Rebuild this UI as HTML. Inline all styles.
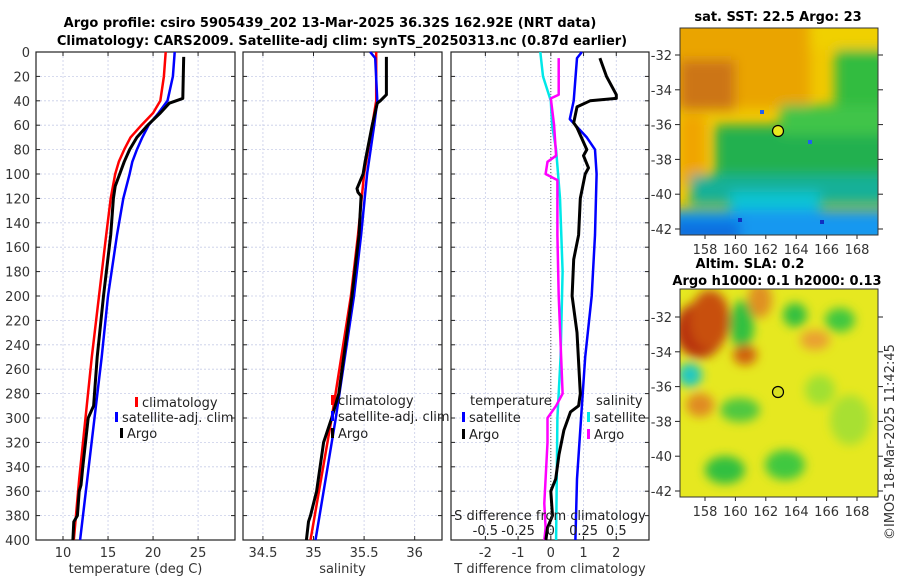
<!DOCTYPE html>
<html><head><meta charset="utf-8"><style>
body{margin:0;background:#fff;}
svg{display:block;font-family:"DejaVu Sans","Liberation Sans",sans-serif;}
</style></head><body>
<svg id="c" width="900" height="580" viewBox="0 0 900 580">
<defs>
<filter id="bl" x="-20%" y="-20%" width="140%" height="140%"><feGaussianBlur stdDeviation="6"/></filter>
<filter id="bl2" x="-20%" y="-20%" width="140%" height="140%"><feGaussianBlur stdDeviation="5"/></filter>
<clipPath id="cm1"><rect x="680" y="28" width="198" height="207"/></clipPath>
<clipPath id="cm2"><rect x="680" y="289" width="198" height="208"/></clipPath>
</defs>
<text x="330" y="27" font-size="13" font-weight="bold" text-anchor="middle">Argo profile: csiro 5905439_202 13-Mar-2025 36.32S 162.92E (NRT data)</text>
<text x="342" y="45" font-size="13" font-weight="bold" text-anchor="middle">Climatology: CARS2009. Satellite-adj clim: synTS_20250313.nc (0.87d earlier)</text>
<g id="g"></g>
<!-- maps -->
<g clip-path="url(#cm1)">
<rect x="680" y="28" width="198" height="207" fill="#f0c800"/>
<g filter="url(#bl)">
<rect x="670" y="18" width="140" height="90" fill="#eaa400"/>
<rect x="680" y="60" width="55" height="50" fill="#cc7414"/>
<rect x="680" y="115" width="25" height="70" fill="#f0a400"/>
<rect x="810" y="18" width="80" height="30" fill="#f0d000"/>
<rect x="835" y="50" width="55" height="60" fill="#30bc40"/>
<rect x="715" y="125" width="175" height="55" fill="#20b050"/>
<rect x="780" y="105" width="110" height="30" fill="#40c448"/>
<rect x="690" y="175" width="200" height="30" fill="#14b098"/>
<rect x="730" y="192" width="90" height="20" fill="#10c4d4"/>
<rect x="670" y="210" width="220" height="35" fill="#1498f0"/>
<rect x="670" y="220" width="70" height="25" fill="#1070e0"/>
</g>
<rect x="760" y="110" width="4" height="4" fill="#2060f0"/><rect x="808" y="140" width="4" height="4" fill="#2060f0"/><rect x="820" y="220" width="4" height="4" fill="#1030c0"/><rect x="738" y="218" width="4" height="4" fill="#1030c0"/>
<circle cx="778" cy="131" r="5.5" fill="#e8e820" stroke="#000" stroke-width="1.2"/>
</g>
<rect x="680" y="28" width="198" height="207" fill="none" stroke="#333"/>
<g clip-path="url(#cm2)">
<rect x="680" y="289" width="198" height="208" fill="#e6e820"/>
<g filter="url(#bl2)">
<ellipse cx="700" cy="330" rx="25" ry="28" fill="#b83010"/>
<ellipse cx="710" cy="320" rx="20" ry="30" fill="#c85010"/>
<ellipse cx="690" cy="375" rx="12" ry="12" fill="#20c8c0"/>
<ellipse cx="742" cy="325" rx="12" ry="25" fill="#30c040"/>
<ellipse cx="745" cy="355" rx="12" ry="10" fill="#d06010"/>
<ellipse cx="700" cy="405" rx="14" ry="12" fill="#e08a20"/>
<ellipse cx="740" cy="410" rx="20" ry="12" fill="#50c840"/>
<ellipse cx="760" cy="300" rx="12" ry="18" fill="#e09020"/>
<ellipse cx="795" cy="315" rx="12" ry="12" fill="#30c040"/>
<ellipse cx="840" cy="320" rx="15" ry="12" fill="#40c840"/>
<ellipse cx="815" cy="340" rx="15" ry="10" fill="#eaa030"/>
<ellipse cx="725" cy="470" rx="20" ry="14" fill="#30c040"/>
<ellipse cx="785" cy="465" rx="20" ry="15" fill="#40c840"/>
<ellipse cx="820" cy="390" rx="15" ry="15" fill="#a0e030"/>
<ellipse cx="850" cy="420" rx="20" ry="25" fill="#a8e030"/>
</g>
<circle cx="778" cy="392" r="5.5" fill="#d8e020" stroke="#000" stroke-width="1.2"/>
</g>
<rect x="680" y="289" width="198" height="208" fill="none" stroke="#333"/>
<text x="778" y="21" font-size="13" font-weight="bold" text-anchor="middle">sat. SST: 22.5 Argo: 23</text>
<text x="750" y="268" font-size="13" font-weight="bold" text-anchor="middle">Altim. SLA: 0.2</text>
<text x="777" y="285" font-size="13" font-weight="bold" text-anchor="middle">Argo h1000: 0.1 h2000: 0.13</text>
<text x="0" y="0" font-size="13" fill="#333" transform="translate(894,540) rotate(-90)">©IMOS 18-Mar-2025 11:42:45</text>
</svg>
<script>
// depth-grid data
const tDepth=[0,20,40,50,60,70,80,90,100,120,150,200,250,300,350,400];
const tClim=[21.4,21.2,20.8,20.0,18.7,17.5,16.8,16.2,15.8,15.3,14.8,14.0,13.2,12.5,11.8,11.2];
const tSat=[22.4,22.2,21.6,20.6,19.5,18.8,18.2,17.7,17.4,16.7,16.0,15.0,14.3,13.5,12.7,11.9];
const aDepth=[4,38,42,50,60,70,80,90,100,110,120,150,200,250,290,300,340,355,360,380,385,400];
const tArgo=[23.4,23.3,21.8,20.8,19.4,18.2,17.4,16.8,16.3,15.8,15.6,15.3,14.5,13.8,13.4,12.8,12.2,12.0,11.8,11.6,11.2,11.1];
const sDepth=[0,5,40,60,100,150,200,300,400];
const sClim=[35.62,35.62,35.62,35.58,35.50,35.44,35.37,35.18,34.97];
const sSat=[35.56,35.61,35.63,35.60,35.53,35.47,35.40,35.22,35.02];
const saDepth=[4,35,40,42,60,90,100,112,115,118,150,200,280,300,320,360,380,385,400];
const sArgo=[35.72,35.72,35.66,35.63,35.58,35.51,35.49,35.43,35.44,35.47,35.45,35.38,35.25,35.18,35.10,35.03,34.97,34.95,34.93];
const dtDepth=[0,5,40,55,70,80,100,150,200,250,290,350,400];
const dtSat=[0.95,0.8,0.7,0.58,1.1,1.35,1.4,1.35,1.25,1.05,0.95,0.8,0.75];
const dtaDepth=[5,20,35,38,40,45,58,62,80,85,95,100,120,150,170,200,230,280,290,295,310,330,350,360,380,390,400];
const dtArgo=[1.5,1.7,2.0,2.0,1.2,0.8,0.7,0.8,1.1,1.0,1.15,1.05,0.9,0.85,0.7,0.65,0.8,0.9,0.85,0.6,0.4,0.25,0.15,0.0,0.05,-0.1,-0.15];
const dsDepth=[0,20,40,60,80,120,180,250,300,400];
const dsSat=[-0.08,-0.06,0.0,0.01,0.04,0.07,0.09,0.075,0.05,0.04];
const dsaDepth=[5,35,38,60,85,90,100,105,150,200,280,290,300,320,370,390,400];
const dsArgo=[0.06,0.06,0.0,0.025,0.04,-0.025,-0.04,0.05,0.05,0.06,0.09,0.04,-0.025,-0.025,-0.05,-0.04,-0.05];
const depthTicks=[0,20,40,60,80,100,120,140,160,180,200,220,240,260,280,300,320,340,360,380,400];
const tTicks=[10,15,20,25];
const sTicks=[34.5,35,35.5,36];
const dTicks=[-2,-1,0,1,2];
const dsTicks=[-0.5,-0.25,0,0.25,0.5];
const dsTickLabels=['-0.5','-0.25','0','0.25','0.5'];
const lonTicks=[158,160,162,164,166,168];
const latTicks=[-32,-34,-36,-38,-40,-42];

const NS='http://www.w3.org/2000/svg';
const G=document.getElementById('g');
const Y0=52,Y1=540;
const yD=d=>Y0+(d/400)*(Y1-Y0);
function el(tag,at,parent){const e=document.createElementNS(NS,tag);for(const k in at)e.setAttribute(k,at[k]);(parent||G).appendChild(e);return e;}
function txt(s,at){const e=el('text',at);e.textContent=s;return e;}
function panel(name,x0,x1,xmin,xmax,ticks,labels,xlabel,showY){
  const fx=v=>x0+(v-xmin)/(xmax-xmin)*(x1-x0);
  const g=el('g',{});
  
  
  depthTicks.forEach(d=>{const y=yD(d);
    el('line',{x1:x0,x2:x1,y1:y,y2:y,stroke:'#c8cde8','stroke-width':0.8,'stroke-dasharray':'2,2'},g);
    el('line',{x1:x0,x2:x0+4,y1:y,y2:y,stroke:'#222'},g);el('line',{x1:x1-4,x2:x1,y1:y,y2:y,stroke:'#222'},g);
    if(showY){const t=txt(String(d),{x:x0-6,y:y+5,'font-size':13,fill:'#333','text-anchor':'end'});
      
      }
  });
  ticks.forEach((v,i)=>{const x=fx(v);
    el('line',{x1:x,x2:x,y1:Y0,y2:Y1,stroke:'#c8cde8','stroke-width':0.8,'stroke-dasharray':'2,2'},g);
    el('line',{x1:x,x2:x,y1:Y1-4,y2:Y1,stroke:'#222'},g);el('line',{x1:x,x2:x,y1:Y0,y2:Y0+4,stroke:'#222'},g);
    const t=txt(labels[i],{x:x,y:557,'font-size':13,fill:'#333','text-anchor':'middle'});
    
    
  });
  el('rect',{x:x0,y:Y0,width:x1-x0,height:Y1-Y0,fill:'none',stroke:'#222','stroke-width':1.2},g);
  const xl=txt(xlabel,{x:(x0+x1)/2,y:573,'font-size':13,fill:'#333','text-anchor':'middle'});
  
  
  return fx;
}
function line(name,fx,ds,vs,col,w){
  const p=ds.map((d,i)=>fx(vs[i]).toFixed(1)+','+yD(d).toFixed(1)).join(' ');
  const e=el('polyline',{points:p,fill:'none',stroke:col,'stroke-width':w||2.5,'stroke-linejoin':'round'});
  
  
}
function leg(name,x,y,col,label){
  const g=el('g',{});
  
  
  el('rect',{x:x,y:y-10,width:3,height:10,fill:col},g);
  const t=el('text',{x:x+7,y:y,'font-size':13,fill:'#222'},g);t.textContent=label;
}
const f1=panel('temperature-panel',36,235,7,29.1,tTicks,tTicks.map(String),'temperature (deg C)',true);
line('temp-climatology',f1,tDepth,tClim,'#f00');
line('temp-satellite-adj',f1,tDepth,tSat,'#00f');
line('temp-argo',f1,aDepth,tArgo,'#000',3);
leg('legend-climatology',135,407,'#f00','climatology');
leg('legend-satellite-adj',115,422,'#00f','satellite-adj. clim');
leg('legend-argo',120,438,'#000','Argo');
const f2=panel('salinity-panel',243,442,34.303,36.27,sTicks,['34.5','35','35.5','36'],'salinity',false);
line('sal-climatology',f2,sDepth,sClim,'#f00');
line('sal-satellite-adj',f2,sDepth,sSat,'#00f');
line('sal-argo',f2,saDepth,sArgo,'#000',3);
leg('legend-climatology-2',331,405,'#f00','climatology');
leg('legend-satellite-adj-2',331,421,'#00f','satellite-adj. clim');
leg('legend-argo-2',331,438,'#000','Argo');
const f3=panel('difference-panel',451,649,-3.05,3,dTicks,dTicks.map(String),'T difference from climatology',false);
const fs=v=>f3(v*4);
el('line',{x1:f3(0),x2:f3(0),y1:Y0,y2:Y1,stroke:'#555','stroke-dasharray':'1,2'});
line('sdiff-satellite',fs,dsDepth,dsSat,'#00e8e8');
line('sdiff-argo',fs,dsaDepth,dsArgo,'#f0f');
line('tdiff-satellite',f3,dtDepth,dtSat,'#00f');
line('tdiff-argo',f3,dtaDepth,dtArgo,'#000',3);
txt('temperature',{x:470,y:405,'font-size':13,fill:'#222'});
leg('legend-tdiff-satellite',462,422,'#00f','satellite');
leg('legend-tdiff-argo',462,439,'#000','Argo');
txt('salinity',{x:596,y:405,'font-size':13,fill:'#222'});
leg('legend-sdiff-satellite',587,422,'#00e8e8','satellite');
leg('legend-sdiff-argo',587,439,'#f0f','Argo');
txt('S difference from climatology',{x:550,y:520,'font-size':13,fill:'#222','text-anchor':'middle'});
dsTicks.forEach((v,i)=>{const t=txt(dsTickLabels[i],{x:fs(v),y:535,'font-size':13,fill:'#222','text-anchor':'middle'});
  
  });
function mapTicks(name,top,bot,latA,yA,latB,yB){
  const g=el('g',{});
  
  
  const fy=lat=>yA+(lat-latA)*(yB-yA)/(latB-latA);
  const fx=lon=>705+(lon-158)*15.2;
  latTicks.forEach(l=>{const y=fy(l);
    el('line',{x1:878,x2:883,y1:y,y2:y,stroke:'#222'},g);el('line',{x1:675,x2:680,y1:y,y2:y,stroke:'#222'},g);
    const t=el('text',{x:672,y:y+5,'font-size':13,fill:'#333','text-anchor':'end'},g);t.textContent=String(l);});
  lonTicks.forEach(l=>{const x=fx(l);
    el('line',{x1:x,x2:x,y1:bot,y2:bot+4,stroke:'#222'},g);
    const t=el('text',{x:x,y:bot+19,'font-size':13,fill:'#333','text-anchor':'middle'},g);t.textContent=String(l);});
}
mapTicks('sst-map-axes',28,235,-32,55,-42,229);
mapTicks('sla-map-axes',289,497,-32,317,-42,491);
</script>
</body></html>
